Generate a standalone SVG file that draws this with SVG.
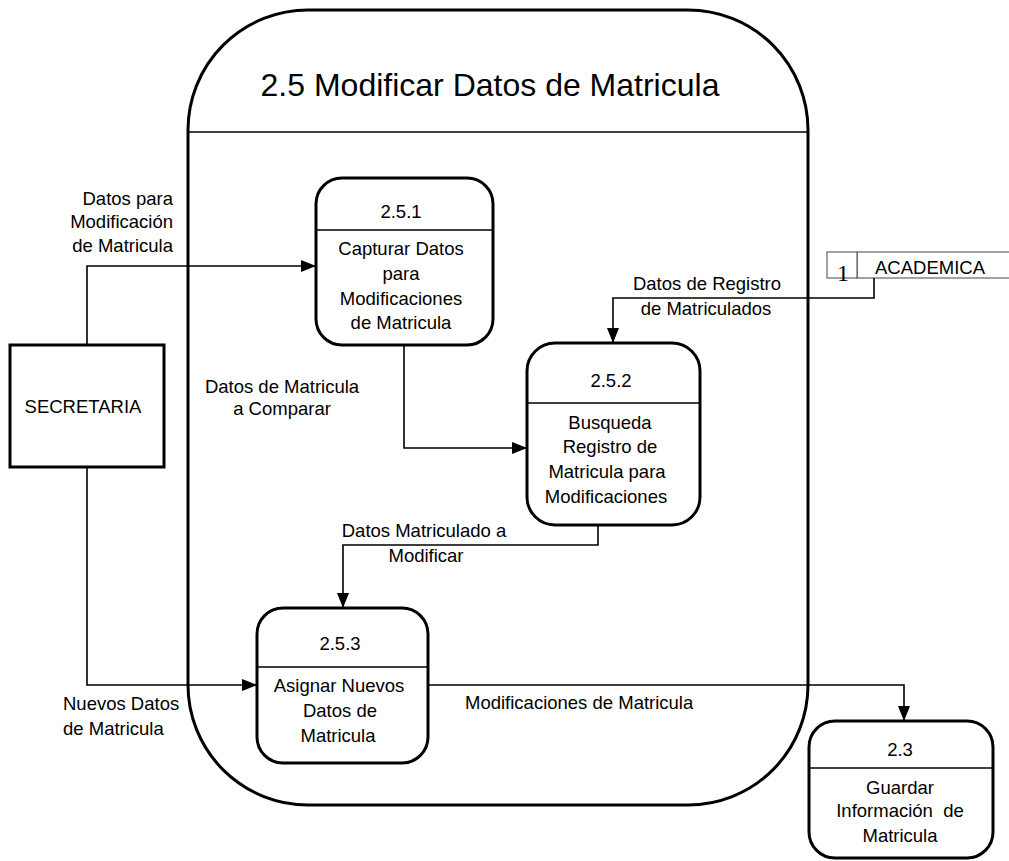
<svg xmlns="http://www.w3.org/2000/svg" width="1009" height="861" viewBox="0 0 1009 861">
<defs>
<style>
text{font-family:"Liberation Sans",Arial,Helvetica,sans-serif;font-size:18.5px;fill:#000}
.c{text-anchor:middle}
.e{text-anchor:end}
.box{fill:#fff;stroke:#000;stroke-width:3}
.div{stroke:#000;stroke-width:1.6}
.flow{fill:none;stroke:#000;stroke-width:1.6}
.store{fill:#fff;stroke:#444;stroke-width:1}
</style>
<marker id="arr" markerUnits="userSpaceOnUse" markerWidth="15" markerHeight="12" refX="15" refY="6" orient="auto">
<path d="M0,0 L15,6 L0,12 z" fill="#000"/>
</marker>
</defs>
<rect width="1009" height="861" fill="#fff"/>

<g id="container">
<rect x="188" y="10" width="620" height="795" rx="120" ry="120" fill="none" stroke="#000" stroke-width="3"/>
<line x1="188" y1="132" x2="808" y2="132" class="div"/>
<text x="490" y="96" class="c" style="font-size:32px">2.5 Modificar Datos de Matricula</text>
</g>

<g id="secretaria">
<rect x="10" y="345" width="154" height="122" class="box"/>
<text x="83" y="413" class="c">SECRETARIA</text>
</g>

<g id="academica">
<rect x="857" y="252" width="160" height="26" class="store"/>
<rect x="827" y="252" width="30" height="26" class="store"/>
<text x="843" y="281" class="c" style="font-family:'Liberation Serif','Times New Roman',serif;font-size:24px">1</text>
<text x="875" y="274">ACADEMICA</text>
</g>

<g id="p251">
<rect x="316" y="178" width="177" height="167" rx="26" ry="26" class="box"/>
<line x1="316" y1="230" x2="493" y2="230" class="div"/>
<text x="401" y="218" class="c">2.5.1</text>
<text x="401" y="255" class="c">Capturar Datos</text>
<text x="401" y="280" class="c">para</text>
<text x="401" y="305" class="c">Modificaciones</text>
<text x="401" y="329" class="c">de Matricula</text>
</g>

<g id="p252">
<rect x="527" y="343" width="173" height="182" rx="28" ry="28" class="box"/>
<line x1="527" y1="403" x2="700" y2="403" class="div"/>
<text x="611" y="387" class="c">2.5.2</text>
<text x="610" y="429" class="c">Busqueda</text>
<text x="610" y="453" class="c">Registro de</text>
<text x="607" y="478" class="c">Matricula para</text>
<text x="606" y="503" class="c">Modificaciones</text>
</g>

<g id="p253">
<rect x="257" y="608" width="171" height="155" rx="26" ry="26" class="box"/>
<line x1="257" y1="667" x2="428" y2="667" class="div"/>
<text x="340" y="650" class="c">2.5.3</text>
<text x="339" y="692" class="c">Asignar Nuevos</text>
<text x="340" y="717" class="c">Datos de</text>
<text x="338" y="742" class="c">Matricula</text>
</g>

<g id="p23">
<rect x="809" y="721" width="184" height="137" rx="26" ry="26" class="box"/>
<line x1="809" y1="768" x2="993" y2="768" class="div"/>
<text x="900" y="756" class="c">2.3</text>
<text x="900" y="794" class="c">Guardar</text>
<text x="900" y="817" class="c" xml:space="preserve">Información  de</text>
<text x="900" y="842" class="c">Matricula</text>
</g>

<g id="connectors">
<path d="M87,345 V266 H316" class="flow" marker-end="url(#arr)"/>
<path d="M874,278 V298 H613 V343" class="flow" marker-end="url(#arr)"/>
<path d="M404,345 V448 H527" class="flow" marker-end="url(#arr)"/>
<path d="M598,525 V545 H343 V608" class="flow" marker-end="url(#arr)"/>
<path d="M87,467 V685 H257" class="flow" marker-end="url(#arr)"/>
<path d="M428,685 H904 V721" class="flow" marker-end="url(#arr)"/>
</g>

<g id="labels">
<text x="173" y="205" class="e">Datos para</text>
<text x="173" y="228" class="e">Modificación</text>
<text x="173" y="252" class="e">de Matricula</text>
<text x="707" y="290" class="c">Datos de Registro</text>
<text x="706" y="315" class="c">de Matriculados</text>
<text x="282" y="393" class="c">Datos de Matricula</text>
<text x="282" y="415" class="c">a Comparar</text>
<text x="424" y="537" class="c">Datos Matriculado a</text>
<text x="426" y="562" class="c">Modificar</text>
<text x="63" y="710">Nuevos Datos</text>
<text x="63" y="735">de Matricula</text>
<text x="465" y="709">Modificaciones de Matricula</text>
</g>
</svg>
